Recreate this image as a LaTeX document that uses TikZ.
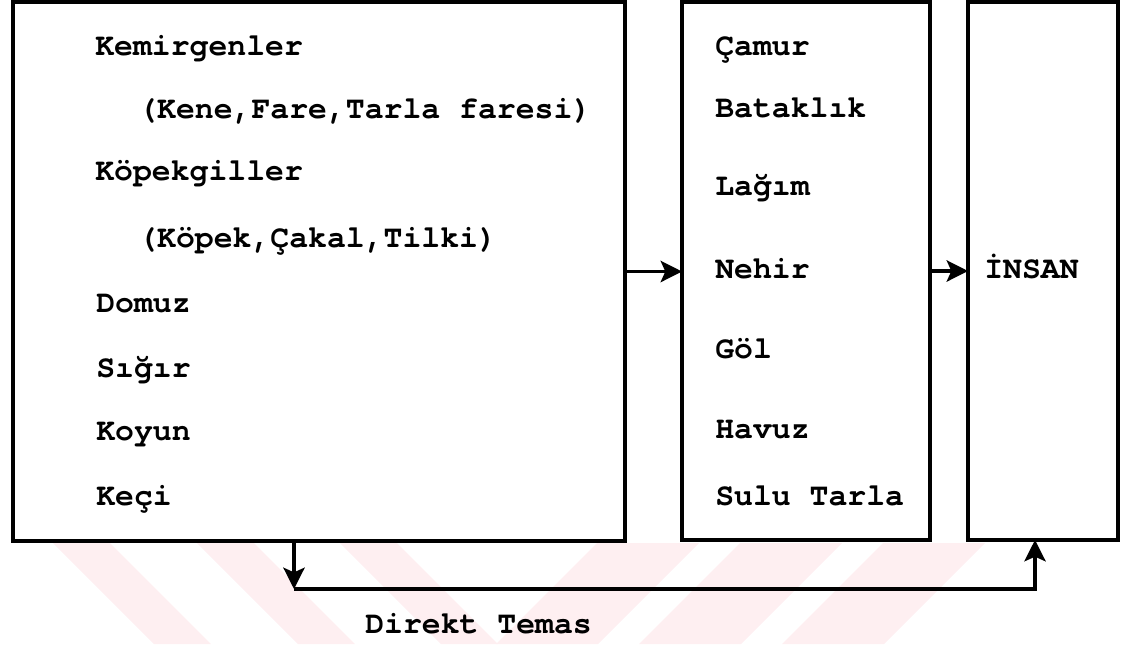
\documentclass[tikz,border=0pt]{standalone}
\usepackage{fontspec}
\usetikzlibrary{arrows.meta}
\newfontfamily\tw{TeX Gyre Cursor}
\newcommand\lbl{\tw\bfseries\fontsize{23.6pt}{28pt}\selectfont}
\definecolor{wmpink}{rgb}{0.996,0.937,0.945}
\tikzset{
  x=0.75pt, y=-0.75pt,
  box/.style={draw, line width=2.5pt, inner sep=0pt, outer sep=0pt},
  lab/.style={anchor=base west, inner sep=0pt, font=\lbl},
  arr/.style={line width=2.5pt, -{Stealth[length=16pt,width=16pt,inset=3.5pt]}},
  wm/.style={fill=wmpink, draw=none}
}
\begin{document}
\begin{tikzpicture}
\useasboundingbox (0,0) rectangle (1128,644);

% faint striped band along the bottom
\begin{scope}
  \clip (0,543) rectangle (1128,644);
  \foreach \a in {53,197,340}
    \fill[wm] (\a,543) -- ++(57,0) -- ++(101,101) -- ++(-57,0) -- cycle;
  \foreach \b in {597,740,883}
    \fill[wm] (\b,543) -- ++(102,0) -- ++(-101,101) -- ++(-102,0) -- cycle;
\end{scope}

% the three boxes
\node[box, minimum width=612*0.75pt, minimum height=539*0.75pt] (L) at (319,271.5) {};
\node[box, minimum width=248*0.75pt, minimum height=538*0.75pt] (M) at (806,271) {};
\node[box, minimum width=150*0.75pt, minimum height=538*0.75pt] (R) at (1043,271) {};

% animal sources
\node[lab] (k1) at (95,55)  {Kemirgenler};
\node[lab] (k2) at (138,118) {(Kene,Fare,Tarla faresi)};
\node[lab] (k3) at (95,180) {Köpekgiller};
\node[lab] (k4) at (138,247) {(Köpek,Çakal,Tilki)};
\node[lab] (k5) at (96,312) {Domuz};
\node[lab] (k6) at (96,377) {Sığır};
\node[lab] (k7) at (96,440) {Koyun};
\node[lab] (k8) at (96,505) {Keçi};

% water sources
\node[lab] (w1) at (715,55)  {Çamur};
\node[lab] (w2) at (715,117) {Bataklık};
\node[lab] (w3) at (715,195) {Lağım};
\node[lab] (w4) at (715,278) {Nehir};
\node[lab] (w5) at (715,358) {Göl};
\node[lab] (w6) at (715,438) {Havuz};
\node[lab] (w7) at (715,505) {Sulu Tarla};

% host
\node[lab] (h) at (984,278) {İNSAN};

% transmission arrows
\draw[arr] (L.east) -- (L.east -| M.west);
\draw[arr] (M.east) -- (M.east -| R.west);

% direct contact route
\coordinate (c1) at (294,589);
\coordinate (c2) at (1035,589);
\draw[arr] (L.south -| c1) -- (c1);
\draw[arr] (c1) -- (c2) -- (R.south -| c2);
\node[lab] (dt) at (365,633) {Direkt Temas};
\end{tikzpicture}
\end{document}
